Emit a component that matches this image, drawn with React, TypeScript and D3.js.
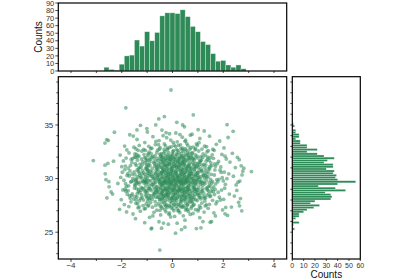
import React from "react";
import * as d3 from "d3";

// ---- data ----
const xBinStart = -2.7;
const xBinWidth = 0.2;
const xBinCounts = [5, 2, 1, 9, 20, 21, 41, 33, 52, 40, 51, 73, 77, 77, 76, 81, 72, 59, 52, 39, 35, 23, 13, 14, 8, 5, 8, 3];

const yBinStart = 25.2;
const yBinWidth = 0.2;
const yBinCounts = [2, 0, 1, 6, 1, 3, 6, 6, 10, 13, 19, 24, 16, 20, 34, 35, 34, 29, 47, 38, 23, 40, 56, 40, 38, 39, 36, 37, 30, 36, 36, 28, 31, 37, 28, 22, 13, 22, 13, 13, 7, 7, 3, 6, 6, 3, 3, 0, 2, 1];

// individually read outlying scatter points
const outlierX = [-0.06, -1.84, 0.82, -0.32, -0.54, 2.15, 0.17, 0.40, 2.39, -2.29, -2.59, -2.53, -3.12, 3.11, 2.81, 2.74, 2.73, 2.64, -0.50, -0.84, 0.12, 1.12, -0.43, 0.49, -2.36, -2.65, -2.50, 2.07, 1.69, 1.54, -2.66, -0.66, -1.40, -1.01];
const outlierY = [38.26, 36.6, 35.94, 35.78, 35.56, 35.03, 35.25, 35.0, 34.41, 34.32, 33.64, 33.54, 31.68, 30.65, 30.97, 30.34, 26.99, 27.46, 23.33, 25.31, 24.91, 25.41, 25.37, 25.47, 28.55, 30.44, 29.23, 26.71, 26.52, 25.99, 31.25, 35.0, 34.54, 34.66];

const xTicksMain = [-4, -2, 0, 2, 4];
const yTicksMain = [25, 30, 35];
const topCountTicks = [0, 10, 20, 30, 40, 50, 60, 70, 80, 90];
const rightCountTicks = [0, 10, 20, 30, 40, 50, 60];

const GREEN = "#2e8b57";
const FONT = "Liberation Sans, Arial, sans-serif";

// inverse of the histogram's cumulative distribution (linear within bins)
function invCdf(start: number, w: number, counts: number[], u: number) {
  const total = d3.sum(counts);
  let target = u * total;
  for (let j = 0; j < counts.length; j++) {
    if (counts[j] > 0 && target <= counts[j]) return start + j * w + (target / counts[j]) * w;
    target -= counts[j];
  }
  return start + counts.length * w;
}

function radicalInverse(i: number, base: number) {
  let f = 1, r = 0;
  while (i > 0) {
    f /= base;
    r += f * (i % base);
    i = Math.floor(i / base);
  }
  return r;
}

// scatter cloud drawn so that its marginals follow the two read histograms
function buildPoints() {
  const N = d3.sum(xBinCounts);
  const pts: { x: number; y: number }[] = [];
  for (let i = 1; i <= N; i++) {
    pts.push({
      x: invCdf(xBinStart, xBinWidth, xBinCounts, radicalInverse(i, 2)),
      y: invCdf(yBinStart, yBinWidth, yBinCounts, radicalInverse(i, 3)),
    });
  }
  outlierX.forEach((x, i) => pts.push({ x, y: outlierY[i] }));
  return pts;
}

export default function App() {
  const W = 400, H = 280;
  const mL = 58.3, mR = 286.7, mT = 76.7, mB = 259;
  const tT = 3, tB = 71;
  const rL = 292.3, rR = 360.3;

  const x = d3.scaleLinear().domain([-4.5, 4.5]).range([mL, mR]);
  const y = d3.scaleLinear().domain([22.5, 39.5]).range([mB, mT]);
  const yTop = d3.scaleLinear().domain([0, 90]).range([tB, tT]);
  const xRight = d3.scaleLinear().domain([0, 60]).range([rL, rR]);

  const pts = buildPoints();
  const xMinor = d3.range(-4, 5, 1);
  const yMinor = d3.range(23, 40, 1);

  return (
    <svg width={W} height={H} style={{ position: "absolute", left: 0, top: 0, fontFamily: FONT }}>
      <rect width={W} height={H} fill="#fff" />
      {/* top histogram */}
      <g>
        {xBinCounts.map((c, j) => {
          const x0 = xBinStart + j * xBinWidth;
          return (
            <rect key={j} x={x(x0)} y={yTop(c)} width={x(x0 + xBinWidth) - x(x0)} height={yTop(0) - yTop(c)}
              fill={GREEN} stroke="rgba(255,255,255,0.55)" strokeWidth={0.6} />
          );
        })}
        <rect x={mL} y={tT} width={mR - mL} height={tB - tT} fill="none" stroke="#000" strokeWidth={1.2} />
        {topCountTicks.map((t) => (
          <g key={t}>
            <line x1={mL - 3} x2={mL} y1={yTop(t)} y2={yTop(t)} stroke="#000" strokeWidth={0.7} />
            <text x={mL - 4} y={yTop(t)} dy="0.35em" fontSize={7.5} textAnchor="end" fill="#333">{t}</text>
          </g>
        ))}
        {xMinor.map((t) => (
          <line key={t} x1={x(t)} x2={x(t)} y1={tB} y2={tB + 2} stroke="#000" strokeWidth={0.7} />
        ))}
        <text transform={`translate(38,${(tT + tB) / 2}) rotate(-90)`} textAnchor="middle" dy="0.35em" fontSize={10} fill="#111">Counts</text>
      </g>

      {/* main scatter */}
      <g>
        <clipPath id="mainclip"><rect x={mL} y={mT} width={mR - mL} height={mB - mT} /></clipPath>
        <g clipPath="url(#mainclip)">
          {pts.map((p, i) => (
            <circle key={i} cx={x(p.x)} cy={y(p.y)} r={1.9} fill={GREEN} fillOpacity={0.55} />
          ))}
        </g>
        <rect x={mL} y={mT} width={mR - mL} height={mB - mT} fill="none" stroke="#000" strokeWidth={1.2} />
        {xMinor.map((t) => (
          <line key={t} x1={x(t)} x2={x(t)} y1={mB} y2={mB + (t % 2 === 0 ? 3 : 2)} stroke="#000" strokeWidth={0.7} />
        ))}
        {xTicksMain.map((t) => (
          <text key={t} x={x(t)} y={mB + 9} textAnchor="middle" fontSize={8} fill="#333">{t < 0 ? "\u2212" + Math.abs(t) : t}</text>
        ))}
        {yMinor.map((t) => (
          <line key={t} x1={mL - (t % 5 === 0 ? 3 : 2)} x2={mL} y1={y(t)} y2={y(t)} stroke="#000" strokeWidth={0.7} />
        ))}
        {yTicksMain.map((t) => (
          <text key={t} x={mL - 5} y={y(t)} dy="0.35em" textAnchor="end" fontSize={8} fill="#333">{t}</text>
        ))}
      </g>

      {/* right histogram */}
      <g>
        {yBinCounts.map((c, j) => {
          const y0 = yBinStart + j * yBinWidth;
          return (
            <rect key={j} x={xRight(0)} y={y(y0 + yBinWidth)} width={xRight(c) - xRight(0)} height={y(y0) - y(y0 + yBinWidth)}
              fill={GREEN} stroke="rgba(255,255,255,0.55)" strokeWidth={0.5} />
          );
        })}
        <rect x={rL} y={mT} width={rR - rL} height={mB - mT} fill="none" stroke="#000" strokeWidth={1.2} />
        {yMinor.map((t) => (
          <line key={t} x1={rL - 2} x2={rL} y1={y(t)} y2={y(t)} stroke="#000" strokeWidth={0.7} />
        ))}
        {rightCountTicks.map((t) => (
          <g key={t}>
            <line x1={xRight(t)} x2={xRight(t)} y1={mB} y2={mB + 2} stroke="#000" strokeWidth={0.7} />
            <text x={xRight(t)} y={mB + 9} textAnchor="middle" fontSize={7} fill="#333">{t}</text>
          </g>
        ))}
        <text x={(rL + rR) / 2} y={H - 2} textAnchor="middle" fontSize={10} fill="#111">Counts</text>
      </g>
    </svg>
  );
}
